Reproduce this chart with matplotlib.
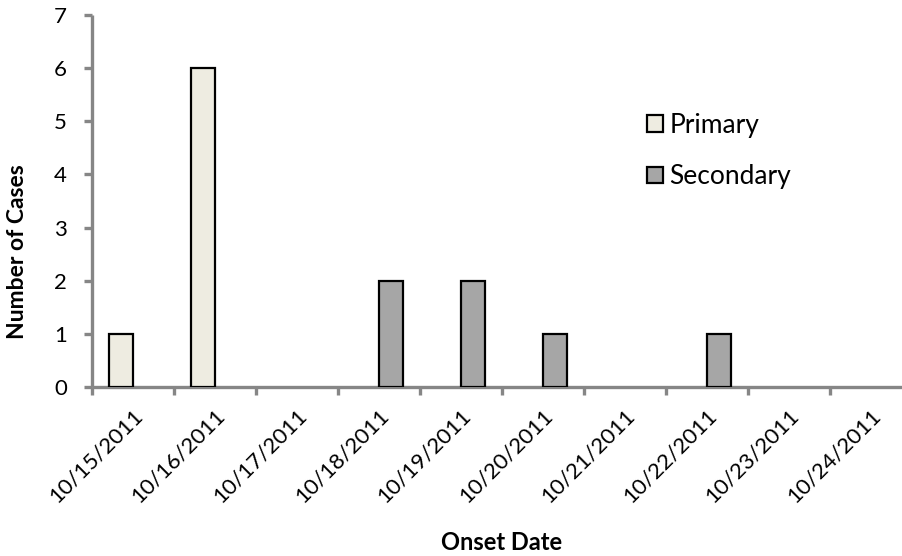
import matplotlib
matplotlib.use("Agg")
import matplotlib.pyplot as plt
import numpy as np
from matplotlib.patches import Patch

plt.rcParams['font.family'] = ['Lato', 'DejaVu Sans']

dates = ['10/15/2011', '10/16/2011', '10/17/2011', '10/18/2011', '10/19/2011',
         '10/20/2011', '10/21/2011', '10/22/2011', '10/23/2011', '10/24/2011']
primary = [1, 6, 0, 0, 0, 0, 0, 0, 0, 0]
secondary = [0, 0, 0, 2, 2, 1, 0, 1, 0, 0]

axis_grey = '#868686'
W, H = 903, 556

fig = plt.figure(figsize=(W / 100, H / 100), dpi=100)
# plot area in pixels: left 92, right 912 (runs past the edge), top 15, bottom 387
ax = fig.add_axes([92 / W, 1 - 387 / H, 820 / W, 372 / H])

x = np.arange(len(dates))
bw = 0.293
for i in range(len(dates)):
    if primary[i] > 0:
        ax.bar(x[i], primary[i], width=-bw, align='edge', color='#EEECE1',
               edgecolor='black', linewidth=1.6, zorder=3)
    if secondary[i] > 0:
        ax.bar(x[i], secondary[i], width=bw, align='edge', color='#A6A6A6',
               edgecolor='black', linewidth=1.6, zorder=3)

ax.set_xlim(-0.5, len(dates) - 0.5)
ax.set_ylim(0, 7)

for s in ['top', 'right']:
    ax.spines[s].set_visible(False)
for s in ['left', 'bottom']:
    ax.spines[s].set_color(axis_grey)
    ax.spines[s].set_linewidth(2.4)
    ax.spines[s].set_capstyle('butt')

ax.set_yticks(range(8))
ax.tick_params(axis='y', direction='out', length=6, width=2.4, color=axis_grey,
               labelsize=16, pad=12)

# tick marks between categories, labels at centers
ax.set_xticks(np.arange(-0.5, len(dates) - 0.5, 1.0))
ax.set_xticklabels([])
ax.set_xticks(x, minor=True)
ax.set_xticklabels(dates, minor=True, rotation=45, ha='right',
                   rotation_mode='anchor', fontsize=16)
ax.tick_params(axis='x', which='major', direction='out', length=6, width=2.4,
               color=axis_grey)
ax.tick_params(axis='x', which='minor', length=0, pad=13)

ax.set_ylabel('Number of Cases', fontsize=16.5, fontweight='bold')
ax.yaxis.set_label_coords((28 - 92) / 820, (387 - 252) / 372)
ax.set_xlabel('Onset Date', fontsize=17, fontweight='bold')
ax.xaxis.set_label_coords(0.5, (387 - 531) / 372)

handles = [Patch(facecolor='#EEECE1', edgecolor='black', linewidth=1.6),
           Patch(facecolor='#A6A6A6', edgecolor='black', linewidth=1.6)]
ax.legend(handles, ['Primary', 'Secondary'], loc='center left',
          bbox_to_anchor=(634 / W, 1 - 151 / H), bbox_transform=fig.transFigure,
          frameon=False, fontsize=19, handlelength=0.6, handleheight=0.6,
          handletextpad=0.25, labelspacing=1.0, borderpad=0)

fig.savefig('out.png', dpi=100)
